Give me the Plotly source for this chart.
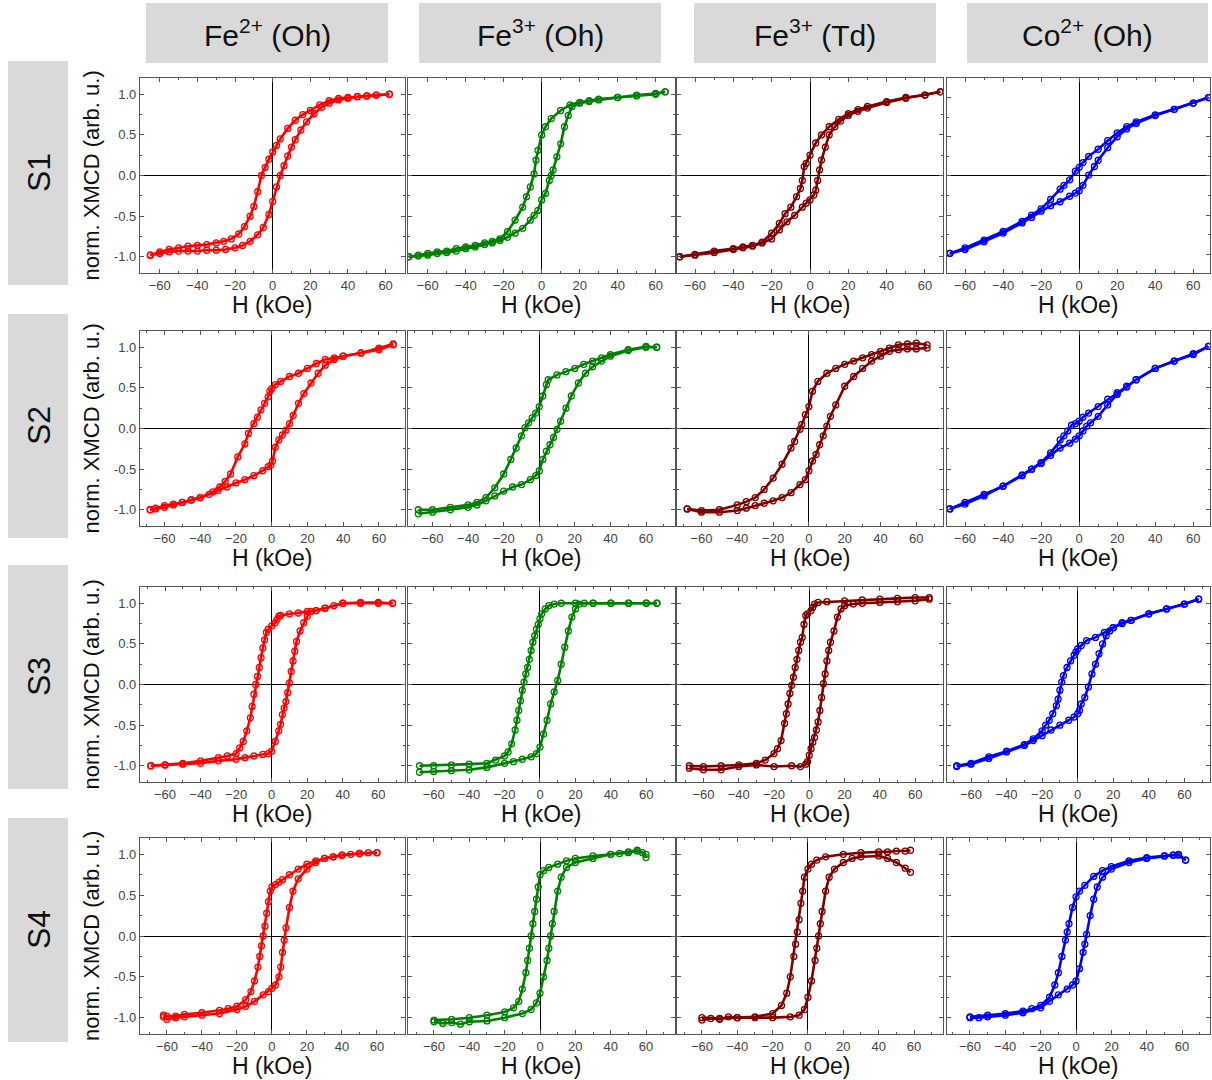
import plotly.graph_objects as go

W, H = 1212, 1080

COLUMN_TITLES = ["Fe<sup>2+</sup> (Oh)", "Fe<sup>3+</sup> (Oh)", "Fe<sup>3+</sup> (Td)", "Co<sup>2+</sup> (Oh)"]
SAMPLE_LABELS = ["S1", "S2", "S3", "S4"]
COLORS = ["#ff0000", "#008000", "#800000", "#0000ff"]
X_TICK_VALUES = [-60, -40, -20, 0, 20, 40, 60]
Y_TICK_VALUES = [-1.0, -0.5, 0.0, 0.5, 1.0]
Y_TICK_TEXT = ["-1.0", "-0.5", "0.0", "0.5", "1.0"]
X_TITLE = "H (kOe)"
Y_TITLE = "norm. XMCD (arb. u.)"

# ---- (H in kOe, normalised XMCD) pairs; DOWN = field sweep from +H to -H, UP = from -H to +H ----
S1_FE2_OH_DOWN = [(62,1.0),(55,0.99),(50,0.98),(45,0.97),(40,0.96),(35,0.95),(30,0.92),(25,0.87),(20,0.8),(16,0.75),(12,0.68),(8,0.58),(4,0.45),(2,0.37),(0,0.29),(-2,0.2),(-4,0.1),(-6,0.0),(-8,-0.2),(-10,-0.38),(-12,-0.5),(-15,-0.63),(-18,-0.72),(-22,-0.78),(-26,-0.81),(-30,-0.83),(-35,-0.85),(-40,-0.86),(-45,-0.87),(-50,-0.89),(-55,-0.91),(-60,-0.94),(-65,-0.98)]
S1_FE2_OH_UP = [(-65,-0.98),(-60,-0.96),(-55,-0.94),(-50,-0.93),(-45,-0.93),(-40,-0.93),(-35,-0.92),(-30,-0.92),(-25,-0.91),(-20,-0.89),(-16,-0.86),(-12,-0.81),(-8,-0.73),(-5,-0.64),(-2,-0.48),(0,-0.32),(2,-0.14),(4,0.0),(6,0.12),(8,0.24),(10,0.35),(12,0.44),(15,0.56),(18,0.66),(22,0.76),(26,0.84),(30,0.89),(35,0.93),(40,0.95),(45,0.97),(50,0.98),(55,0.99),(62,1.0)]

S1_FE3_OH_DOWN = [(65,1.03),(60,1.01),(50,0.99),(40,0.96),(30,0.94),(25,0.92),(20,0.9),(15,0.87),(10,0.8),(5,0.7),(2,0.6),(0,0.5),(-2,0.31),(-3,0.19),(-4,0.02),(-6,-0.14),(-8,-0.26),(-10,-0.39),(-14,-0.55),(-18,-0.69),(-22,-0.78),(-26,-0.81),(-30,-0.83),(-35,-0.86),(-40,-0.88),(-45,-0.9),(-50,-0.93),(-55,-0.94),(-60,-0.96),(-65,-0.98),(-70,-1.0)]
S1_FE3_OH_UP = [(-70,-1.0),(-65,-0.99),(-60,-0.98),(-55,-0.96),(-50,-0.95),(-45,-0.93),(-40,-0.9),(-35,-0.88),(-30,-0.85),(-26,-0.83),(-22,-0.8),(-18,-0.76),(-14,-0.71),(-10,-0.65),(-6,-0.55),(-4,-0.49),(-2,-0.43),(0,-0.3),(2,-0.22),(4,-0.06),(5,0.0),(6,0.07),(8,0.23),(10,0.39),(12,0.6),(14,0.74),(16,0.85),(20,0.89),(25,0.91),(30,0.93),(40,0.96),(50,0.98),(60,1.0),(65,1.03)]

S1_FE3_TD_DOWN = [(68,1.03),(60,0.99),(50,0.96),(40,0.91),(30,0.85),(25,0.81),(20,0.76),(15,0.69),(10,0.6),(6,0.5),(3,0.4),(0,0.25),(-2,0.15),(-3,0.11),(-4,-0.06),(-5,-0.16),(-7,-0.26),(-10,-0.39),(-13,-0.47),(-16,-0.59),(-20,-0.71),(-25,-0.82),(-30,-0.86),(-35,-0.88),(-40,-0.9),(-50,-0.93),(-60,-0.97),(-68,-1.0)]
S1_FE3_TD_UP = [(-68,-1.0),(-60,-0.98),(-50,-0.95),(-40,-0.91),(-35,-0.89),(-30,-0.87),(-25,-0.83),(-20,-0.78),(-16,-0.67),(-12,-0.57),(-8,-0.49),(-4,-0.39),(-2,-0.34),(0,-0.3),(2,-0.24),(3,-0.18),(4,-0.06),(5,0.07),(6,0.19),(8,0.35),(10,0.5),(13,0.6),(16,0.67),(20,0.74),(25,0.79),(30,0.83),(40,0.9),(50,0.95),(60,0.99),(68,1.03)]

S1_CO2_OH_DOWN = [(68,1.0),(60,0.93),(50,0.85),(40,0.78),(30,0.69),(25,0.63),(20,0.55),(15,0.45),(10,0.34),(5,0.25),(2,0.17),(0,0.11),(-2,0.06),(-5,-0.05),(-8,-0.12),(-10,-0.17),(-15,-0.3),(-20,-0.42),(-25,-0.5),(-30,-0.58),(-40,-0.71),(-50,-0.82),(-60,-0.92),(-68,-0.99)]
S1_CO2_OH_UP = [(-68,-0.99),(-60,-0.94),(-50,-0.84),(-40,-0.73),(-30,-0.6),(-25,-0.53),(-20,-0.45),(-15,-0.38),(-10,-0.33),(-5,-0.26),(-2,-0.22),(0,-0.19),(2,-0.12),(5,0.01),(8,0.12),(10,0.2),(15,0.36),(20,0.5),(25,0.6),(30,0.67),(40,0.77),(50,0.85),(60,0.93),(68,1.0)]

S2_FE2_OH_DOWN = [(68,1.04),(60,0.99),(50,0.93),(40,0.89),(35,0.87),(30,0.85),(25,0.8),(20,0.74),(15,0.68),(10,0.64),(5,0.58),(2,0.54),(0,0.49),(-1,0.46),(-2,0.39),(-4,0.31),(-6,0.23),(-8,0.14),(-10,0.06),(-13,-0.06),(-15,-0.19),(-19,-0.35),(-23,-0.56),(-26,-0.65),(-29,-0.72),(-33,-0.78),(-40,-0.85),(-45,-0.88),(-50,-0.91),(-55,-0.93),(-60,-0.95),(-65,-0.98),(-68,-1.0)]
S2_FE2_OH_UP = [(-68,-1.0),(-65,-0.99),(-60,-0.97),(-55,-0.94),(-50,-0.91),(-45,-0.88),(-40,-0.85),(-35,-0.81),(-30,-0.76),(-25,-0.72),(-20,-0.67),(-15,-0.63),(-10,-0.58),(-5,-0.52),(-2,-0.47),(-0.5,-0.45),(0.5,-0.4),(2,-0.23),(4,-0.14),(6,-0.08),(8,-0.02),(10,0.06),(12,0.16),(15,0.31),(18,0.43),(22,0.56),(26,0.68),(30,0.78),(35,0.85),(40,0.89),(50,0.93),(60,0.97),(68,1.03)]

S2_FE3_OH_DOWN = [(66,1.0),(60,1.01),(50,0.97),(40,0.91),(35,0.87),(30,0.83),(25,0.79),(20,0.74),(15,0.7),(10,0.66),(5,0.6),(4,0.54),(2,0.4),(0,0.27),(-2,0.19),(-4,0.13),(-6,0.07),(-8,0.01),(-10,-0.09),(-13,-0.24),(-16,-0.38),(-20,-0.56),(-25,-0.73),(-30,-0.85),(-35,-0.91),(-40,-0.94),(-50,-0.97),(-60,-1.0),(-68,-1.0)]
S2_FE3_OH_UP = [(-68,-1.05),(-60,-1.03),(-50,-1.0),(-40,-0.97),(-35,-0.94),(-30,-0.89),(-25,-0.83),(-20,-0.77),(-15,-0.72),(-10,-0.69),(-5,-0.63),(-2,-0.58),(0,-0.52),(2,-0.38),(4,-0.28),(6,-0.2),(8,-0.11),(10,-0.01),(12,0.09),(15,0.25),(18,0.4),(22,0.56),(26,0.68),(30,0.76),(35,0.83),(40,0.89),(50,0.96),(60,1.0),(66,1.0)]

S2_FE3_TD_DOWN = [(66,1.03),(60,1.05),(55,1.04),(50,1.03),(45,0.99),(40,0.95),(35,0.91),(30,0.87),(25,0.83),(20,0.79),(15,0.74),(10,0.68),(5,0.58),(2,0.46),(0,0.27),(-2,0.17),(-4,0.05),(-5,-0.01),(-8,-0.16),(-10,-0.24),(-15,-0.44),(-20,-0.61),(-25,-0.75),(-30,-0.85),(-35,-0.9),(-40,-0.94),(-50,-1.0),(-60,-1.01),(-68,-0.99)]
S2_FE3_TD_UP = [(-68,-0.99),(-60,-1.03),(-50,-1.03),(-40,-1.01),(-35,-0.98),(-30,-0.95),(-25,-0.92),(-20,-0.89),(-15,-0.85),(-10,-0.79),(-5,-0.69),(-2,-0.63),(0,-0.52),(2,-0.4),(4,-0.32),(6,-0.2),(8,-0.09),(10,0.03),(12,0.15),(15,0.29),(20,0.52),(25,0.64),(30,0.74),(35,0.83),(40,0.89),(45,0.95),(50,0.97),(55,0.98),(60,0.98),(66,0.99)]

S2_CO2_OH_DOWN = [(68,1.01),(60,0.91),(50,0.83),(40,0.74),(30,0.6),(25,0.52),(20,0.44),(15,0.36),(10,0.27),(5,0.19),(2,0.14),(0,0.09),(-2,0.06),(-4,0.04),(-6,-0.03),(-8,-0.09),(-10,-0.14),(-15,-0.3),(-20,-0.42),(-25,-0.5),(-30,-0.58),(-40,-0.71),(-50,-0.81),(-60,-0.91),(-68,-0.99)]
S2_CO2_OH_UP = [(-68,-0.99),(-60,-0.93),(-50,-0.83),(-40,-0.71),(-30,-0.57),(-25,-0.5),(-20,-0.43),(-15,-0.33),(-10,-0.24),(-5,-0.18),(-2,-0.13),(0,-0.09),(2,-0.03),(4,0.03),(6,0.07),(10,0.15),(15,0.29),(20,0.42),(25,0.51),(30,0.6),(40,0.74),(50,0.83),(60,0.92),(68,1.01)]

S3_FE2_OH_DOWN = [(68,1.0),(60,1.01),(50,1.01),(40,1.0),(35,0.97),(30,0.94),(25,0.91),(20,0.9),(15,0.88),(10,0.87),(5,0.85),(4,0.84),(3,0.8),(2,0.76),(0,0.72),(-2,0.68),(-3,0.64),(-4,0.55),(-5,0.45),(-6,0.33),(-7,0.21),(-8,0.1),(-9,0.0),(-10,-0.12),(-11,-0.27),(-12,-0.41),(-14,-0.57),(-16,-0.7),(-18,-0.78),(-20,-0.85),(-25,-0.88),(-30,-0.9),(-40,-0.94),(-50,-0.97),(-60,-0.99),(-68,-1.0)]
S3_FE2_OH_UP = [(-68,-1.0),(-60,-0.99),(-50,-0.98),(-40,-0.97),(-30,-0.94),(-20,-0.92),(-15,-0.9),(-10,-0.88),(-5,-0.86),(-2,-0.85),(0,-0.82),(2,-0.7),(4,-0.57),(5,-0.49),(6,-0.37),(7,-0.29),(8,-0.21),(9,-0.1),(10,0.02),(11,0.16),(12,0.29),(13,0.41),(14,0.53),(16,0.66),(18,0.76),(20,0.84),(22,0.9),(25,0.91),(30,0.94),(40,1.0),(50,1.0),(60,1.0),(68,1.0)]

S3_FE3_OH_DOWN = [(66,1.0),(60,1.0),(50,1.0),(40,1.0),(30,1.0),(20,1.0),(12,1.0),(8,0.99),(5,0.97),(3,0.93),(1,0.87),(0,0.81),(-1,0.74),(-2,0.68),(-3,0.6),(-4,0.52),(-5,0.42),(-6,0.31),(-7,0.21),(-8,0.13),(-9,0.03),(-10,-0.07),(-11,-0.2),(-12,-0.32),(-13,-0.44),(-14,-0.56),(-16,-0.73),(-18,-0.83),(-20,-0.88),(-25,-0.93),(-30,-0.97),(-40,-0.98),(-50,-0.99),(-60,-1.0),(-68,-1.0)]
S3_FE3_OH_UP = [(-68,-1.08),(-60,-1.07),(-50,-1.06),(-40,-1.05),(-30,-1.02),(-20,-0.97),(-15,-0.95),(-10,-0.92),(-5,-0.89),(-2,-0.85),(0,-0.77),(2,-0.61),(4,-0.44),(6,-0.24),(8,-0.09),(10,0.05),(12,0.25),(14,0.46),(16,0.66),(18,0.83),(20,0.93),(22,0.99),(25,1.0),(30,1.0),(40,1.0),(50,1.0),(60,1.0),(66,1.0)]

S3_FE3_TD_DOWN = [(68,1.07),(60,1.07),(50,1.06),(40,1.05),(30,1.04),(20,1.03),(10,1.02),(5,1.01),(3,0.99),(2,0.95),(1,0.91),(-1,0.87),(-2,0.85),(-3,0.74),(-4,0.58),(-5,0.52),(-6,0.42),(-7,0.31),(-8,0.21),(-9,0.09),(-10,-0.01),(-11,-0.11),(-12,-0.24),(-13,-0.36),(-14,-0.48),(-16,-0.69),(-18,-0.79),(-20,-0.85),(-25,-0.93),(-30,-0.97),(-40,-0.99),(-50,-1.0),(-60,-1.01),(-68,-1.0)]
S3_FE3_TD_UP = [(-68,-1.03),(-60,-1.05),(-50,-1.05),(-40,-1.01),(-30,-0.99),(-20,-1.01),(-10,-1.0),(-5,-1.01),(-2,-0.98),(-1,-0.95),(0,-0.87),(1,-0.79),(2,-0.71),(3,-0.65),(4,-0.56),(5,-0.46),(6,-0.32),(7,-0.16),(8,0.01),(9,0.13),(10,0.29),(11,0.42),(12,0.52),(14,0.66),(16,0.83),(18,0.93),(20,0.97),(25,0.99),(30,1.0),(40,1.01),(50,1.02),(60,1.03),(68,1.05)]

S3_CO2_OH_DOWN = [(68,1.05),(60,0.99),(50,0.93),(40,0.87),(30,0.79),(25,0.76),(20,0.7),(15,0.64),(10,0.58),(5,0.54),(2,0.48),(0,0.44),(-1,0.4),(-2,0.36),(-4,0.29),(-6,0.21),(-8,0.11),(-9,0.03),(-10,-0.07),(-11,-0.18),(-12,-0.26),(-14,-0.36),(-16,-0.44),(-18,-0.5),(-20,-0.57),(-25,-0.67),(-30,-0.74),(-40,-0.82),(-50,-0.89),(-60,-0.97),(-68,-1.0)]
S3_CO2_OH_UP = [(-68,-1.01),(-60,-0.98),(-50,-0.91),(-40,-0.83),(-30,-0.75),(-25,-0.69),(-20,-0.63),(-15,-0.56),(-10,-0.5),(-5,-0.44),(-2,-0.4),(0,-0.36),(1,-0.32),(2,-0.24),(4,-0.16),(6,-0.03),(8,0.13),(10,0.25),(12,0.38),(14,0.5),(16,0.6),(18,0.66),(20,0.7),(25,0.75),(30,0.79),(40,0.87),(50,0.93),(60,0.99),(68,1.05)]

S4_FE2_OH_DOWN = [(60,1.02),(55,1.02),(50,1.01),(45,1.0),(40,0.99),(35,0.97),(30,0.95),(25,0.92),(20,0.88),(15,0.82),(10,0.75),(6,0.69),(4,0.66),(2,0.63),(0,0.6),(-1,0.55),(-2,0.42),(-3,0.28),(-4,0.12),(-5,0.0),(-6,-0.12),(-7,-0.25),(-8,-0.38),(-10,-0.55),(-12,-0.68),(-15,-0.78),(-20,-0.86),(-25,-0.89),(-30,-0.91),(-40,-0.94),(-50,-0.96),(-55,-0.98),(-60,-0.98),(-62,-0.97)]
S4_FE2_OH_UP = [(-62,-0.99),(-60,-1.02),(-55,-1.0),(-50,-0.99),(-40,-0.97),(-30,-0.95),(-20,-0.9),(-15,-0.86),(-10,-0.8),(-5,-0.72),(-2,-0.68),(0,-0.64),(2,-0.6),(4,-0.5),(5,-0.38),(6,-0.2),(7,-0.05),(8,0.1),(10,0.35),(12,0.55),(15,0.7),(20,0.82),(25,0.9),(30,0.95),(35,0.97),(40,0.99),(50,1.01),(60,1.02)]

S4_FE3_OH_DOWN = [(60,0.96),(58,1.02),(55,1.04),(50,1.02),(45,1.01),(40,1.0),(30,0.98),(20,0.95),(15,0.92),(10,0.88),(5,0.84),(2,0.8),(0,0.75),(-1,0.6),(-2,0.45),(-3,0.3),(-4,0.15),(-5,0.0),(-6,-0.15),(-7,-0.3),(-8,-0.45),(-10,-0.65),(-12,-0.8),(-15,-0.88),(-20,-0.93),(-30,-0.97),(-40,-1.0),(-50,-1.02),(-60,-1.03)]
S4_FE3_OH_UP = [(-60,-1.05),(-55,-1.07),(-50,-1.06),(-45,-1.08),(-40,-1.05),(-30,-1.04),(-20,-1.0),(-10,-0.95),(-5,-0.9),(-2,-0.82),(0,-0.7),(2,-0.5),(4,-0.3),(5,-0.15),(6,0.0),(7,0.15),(8,0.3),(10,0.55),(12,0.72),(15,0.84),(20,0.9),(30,0.95),(40,1.0),(50,1.03),(55,1.05),(60,1.0)]

S4_FE3_TD_DOWN = [(58,1.05),(55,1.04),(50,1.04),(45,1.03),(40,1.03),(30,1.02),(20,1.0),(10,0.97),(5,0.93),(2,0.88),(0,0.82),(-2,0.72),(-3,0.55),(-4,0.4),(-5,0.2),(-6,0.05),(-7,-0.1),(-8,-0.25),(-10,-0.5),(-12,-0.7),(-15,-0.85),(-20,-0.95),(-30,-0.99),(-40,-1.0),(-50,-1.01),(-60,-1.0)]
S4_FE3_TD_UP = [(-60,-1.03),(-55,-1.01),(-50,-1.02),(-45,-0.99),(-40,-1.0),(-30,-1.0),(-20,-1.0),(-10,-0.99),(-5,-0.97),(-2,-0.9),(0,-0.75),(2,-0.55),(4,-0.3),(5,-0.15),(6,0.0),(7,0.15),(8,0.3),(10,0.55),(12,0.72),(15,0.82),(20,0.9),(25,0.95),(30,0.97),(40,0.98),(45,0.95),(50,0.9),(55,0.83),(58,0.78)]

S4_CO2_OH_DOWN = [(62,0.93),(58,1.0),(55,0.99),(50,0.98),(40,0.96),(30,0.92),(20,0.85),(15,0.8),(10,0.73),(5,0.62),(2,0.55),(0,0.48),(-2,0.35),(-4,0.15),(-5,0.05),(-6,-0.05),(-8,-0.25),(-10,-0.45),(-12,-0.6),(-15,-0.75),(-20,-0.85),(-25,-0.89),(-30,-0.92),(-40,-0.95),(-50,-0.97),(-60,-0.99)]
S4_CO2_OH_UP = [(-60,-1.0),(-55,-1.0),(-50,-0.99),(-40,-0.97),(-30,-0.94),(-20,-0.88),(-15,-0.8),(-10,-0.72),(-5,-0.65),(-2,-0.6),(0,-0.55),(2,-0.4),(4,-0.2),(5,-0.1),(6,0.02),(8,0.25),(10,0.45),(12,0.6),(15,0.72),(20,0.82),(30,0.9),(40,0.95),(50,0.98),(55,0.99),(58,0.99),(62,0.93)]

LOOPS = [
    [(S1_FE2_OH_DOWN, S1_FE2_OH_UP), (S1_FE3_OH_DOWN, S1_FE3_OH_UP), (S1_FE3_TD_DOWN, S1_FE3_TD_UP), (S1_CO2_OH_DOWN, S1_CO2_OH_UP)],
    [(S2_FE2_OH_DOWN, S2_FE2_OH_UP), (S2_FE3_OH_DOWN, S2_FE3_OH_UP), (S2_FE3_TD_DOWN, S2_FE3_TD_UP), (S2_CO2_OH_DOWN, S2_CO2_OH_UP)],
    [(S3_FE2_OH_DOWN, S3_FE2_OH_UP), (S3_FE3_OH_DOWN, S3_FE3_OH_UP), (S3_FE3_TD_DOWN, S3_FE3_TD_UP), (S3_CO2_OH_DOWN, S3_CO2_OH_UP)],
    [(S4_FE2_OH_DOWN, S4_FE2_OH_UP), (S4_FE3_OH_DOWN, S4_FE3_OH_UP), (S4_FE3_TD_DOWN, S4_FE3_TD_UP), (S4_CO2_OH_DOWN, S4_CO2_OH_UP)],
]

# ---- layout geometry (pixels) ----
COL_PX = [(140, 405), (408, 675), (677, 943), (947, 1210)]
ROW_PX = [(78, 273), (331, 526), (587, 782), (838, 1034)]
HEADER_PX = [(146, 388), (419, 661), (694, 936), (967, 1208)]
HEADER_Y = (3, 63)
SIDE_X = (8, 68)
SIDE_PX = [(61, 285), (314, 538), (565, 789), (818, 1042)]
X_RANGES = [
    [(-70.5, 70.3), (-70.4, 70.2), (-69.4, 69.4), (-69.5, 68.8)],
    [(-73.7, 74.6), (-73.8, 76.3), (-73.7, 74.9), (-69.5, 68.8)],
    [(-74.1, 75.0), (-74.5, 76.2), (-75.0, 75.8), (-73.5, 74.4)],
    [(-75.4, 76.0), (-74.7, 76.4), (-74.1, 76.4), (-73.0, 75.8)],
]
Y_RANGES = [
    [(-1.2, 1.2), (-1.2, 1.2), (-1.2, 1.2), (-1.24, 1.25)],
    [(-1.2, 1.2)] * 4,
    [(-1.2, 1.2)] * 4,
    [(-1.2, 1.2)] * 4,
]

FONT = "Liberation Sans, Arial, sans-serif"


def px_x(v):
    return v / W


def px_y(v):
    return 1 - v / H


fig = go.Figure()
layout = {}
annotations = []
shapes = []

for r in range(4):
    for c in range(4):
        k = r * 4 + c + 1
        suffix = "" if k == 1 else str(k)
        xa, ya = "x" + suffix, "y" + suffix
        down, up = LOOPS[r][c]
        for branch in (down, up):
            fig.add_trace(go.Scatter(
                x=[p[0] for p in branch], y=[p[1] for p in branch],
                xaxis=xa, yaxis=ya, mode="lines+markers",
                line=dict(color=COLORS[c], width=2.6),
                marker=dict(symbol="circle-open", size=6, color=COLORS[c], line=dict(width=1.3)),
                showlegend=False, hoverinfo="x+y",
            ))
        x0, x1 = COL_PX[c]
        y0, y1 = ROW_PX[r]
        layout["xaxis" + suffix] = dict(
            domain=[px_x(x0), px_x(x1)], range=list(X_RANGES[r][c]), anchor=ya,
            showgrid=False, zeroline=True, zerolinecolor="black", zerolinewidth=1,
            showline=True, linecolor="#555555", linewidth=1.3, mirror="ticks",
            ticks="inside", ticklen=4, tickcolor="#555555", tickvals=X_TICK_VALUES,
            minor=dict(ticks="inside", ticklen=2, dtick=10, tickcolor="#555555"),
            tickfont=dict(family=FONT, size=13, color="#444444"),
        )
        layout["yaxis" + suffix] = dict(
            domain=[px_y(y1), px_y(y0)], range=list(Y_RANGES[r][c]), anchor=xa,
            showgrid=False, zeroline=True, zerolinecolor="black", zerolinewidth=1,
            showline=True, linecolor="#555555", linewidth=1.3, mirror="ticks",
            ticks="inside", ticklen=4, tickcolor="#555555",
            tickvals=Y_TICK_VALUES, ticktext=Y_TICK_TEXT, showticklabels=(c == 0),
            minor=dict(ticks="inside", ticklen=2, dtick=0.25, tickcolor="#555555"),
            tickfont=dict(family=FONT, size=13, color="#444444"),
        )
        annotations.append(dict(
            text=X_TITLE, xref="paper", yref="paper", x=px_x((x0 + x1) / 2), y=px_y(y1 + 32),
            xanchor="center", yanchor="middle", showarrow=False,
            font=dict(family=FONT, size=23, color="#111111"),
        ))
    y0, y1 = ROW_PX[r]
    annotations.append(dict(
        text=Y_TITLE, xref="paper", yref="paper", x=px_x(91), y=px_y((y0 + y1) / 2),
        xanchor="center", yanchor="middle", textangle=-90, showarrow=False,
        font=dict(family=FONT, size=22, color="#111111"),
    ))
    s0, s1 = SIDE_PX[r]
    shapes.append(dict(type="rect", xref="paper", yref="paper", x0=px_x(SIDE_X[0]), x1=px_x(SIDE_X[1]),
                       y0=px_y(s1), y1=px_y(s0), fillcolor="#d9d9d9", line=dict(width=0), layer="below"))
    annotations.append(dict(
        text=SAMPLE_LABELS[r], xref="paper", yref="paper", x=px_x(39), y=px_y((s0 + s1) / 2),
        xanchor="center", yanchor="middle", textangle=-90, showarrow=False,
        font=dict(family=FONT, size=32, color="#111111"),
    ))

for c in range(4):
    h0, h1 = HEADER_PX[c]
    shapes.append(dict(type="rect", xref="paper", yref="paper", x0=px_x(h0), x1=px_x(h1),
                       y0=px_y(HEADER_Y[1]), y1=px_y(HEADER_Y[0]), fillcolor="#d9d9d9",
                       line=dict(width=0), layer="below"))
    annotations.append(dict(
        text=COLUMN_TITLES[c], xref="paper", yref="paper", x=px_x((h0 + h1) / 2),
        y=px_y(sum(HEADER_Y) / 2), xanchor="center", yanchor="middle", showarrow=False,
        font=dict(family=FONT, size=30, color="#111111"),
    ))

fig.update_layout(
    width=W, height=H, margin=dict(l=0, r=0, t=0, b=0),
    paper_bgcolor="white", plot_bgcolor="white",
    annotations=annotations, shapes=shapes, **layout,
)

fig.write_html("out.html")
